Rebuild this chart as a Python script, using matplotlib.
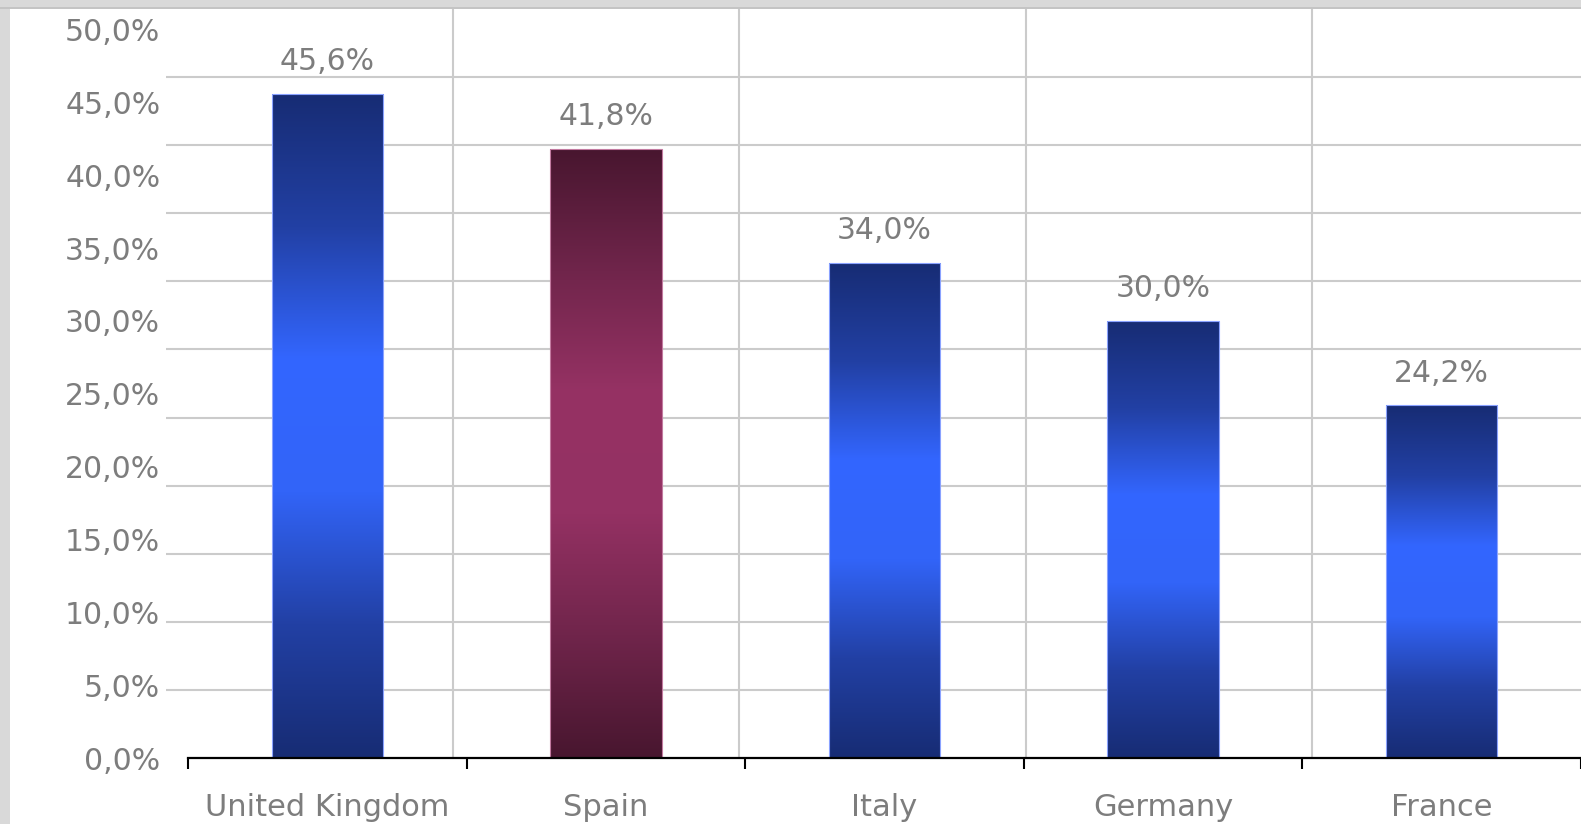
import numpy as np
import matplotlib
matplotlib.use("Agg")
import matplotlib.pyplot as plt
from matplotlib.colors import LinearSegmentedColormap
from matplotlib.patches import Rectangle

# ---- data ----
categories = ["United Kingdom", "Spain", "Italy", "Germany", "France"]
values = [45.6, 41.8, 34.0, 30.0, 24.2]
highlight = ["Spain"]
y_ticks = [0, 5, 10, 15, 20, 25, 30, 35, 40, 45, 50]

W, H = 1581, 824
fig = plt.figure(figsize=(W / 100, H / 100), dpi=100, facecolor="#d9d9d9")

# white panel
fig.patches.append(Rectangle((10 / W, 0), 1 - 10 / W, 1 - 9 / H, transform=fig.transFigure,
                             facecolor="white", edgecolor="none", zorder=-10))
fig.patches.append(Rectangle((0, 1 - 9 / H), 1, 1.5 / H, transform=fig.transFigure,
                             facecolor="#c4c4c4", edgecolor="none", zorder=-10))

# background grid (decorative, independent of the data axes)
bg = fig.add_axes([166 / W, 1 - 758 / H, (W - 166) / W, (758 - 9) / H])
bg.set_xlim(0, (W - 166) / 286.5)
bg.set_ylim(0, 11)
bg.set_facecolor("none")
bg.set_xticks(np.arange(1, 5))
bg.set_yticks(np.arange(1, 11))
bg.grid(True, color="#cbcbcb", linewidth=1.5)
bg.tick_params(length=0, labelbottom=False, labelleft=False)
for s in bg.spines.values():
    s.set_visible(False)

# main axes
ax = fig.add_axes([188 / W, 1 - 758 / H, (W - 188) / W, (758 - 29.5) / H])
ax.set_facecolor("none")
x = np.arange(len(categories))
bars = ax.bar(x, values, width=0.4, color="none", edgecolor="none", zorder=3)

blue = LinearSegmentedColormap.from_list(
    "b", ["#172c74", "#2240a4", "#3264f8", "#3366ff", "#2240a4", "#172c74"])
maroon = LinearSegmentedColormap.from_list(
    "m", ["#48162f", "#70254b", "#943163", "#963264", "#70254b", "#48162f"])
grad = np.linspace(0, 1, 256).reshape(-1, 1)
for cat, b in zip(categories, bars):
    cmap = maroon if cat in highlight else blue
    edge = "#c27aa0" if cat in highlight else "#8aa2ff"
    bx, by, bw, bh = b.get_x(), b.get_y(), b.get_width(), b.get_height()
    im = ax.imshow(grad, extent=[bx, bx + bw, by, by + bh], aspect="auto",
                   cmap=cmap, origin="lower", zorder=3, interpolation="bilinear")
    im.set_clip_path(b)
    ax.add_patch(Rectangle((bx, by), bw, bh, facecolor="none", edgecolor=edge,
                           linewidth=0.8, zorder=4))

txt_color = "#7d7d7d"
for xi, v in zip(x, values):
    ax.annotate(f"{v:.1f}%".replace(".", ","), (xi, v), xytext=(0, 17),
                textcoords="offset points", ha="center", va="baseline",
                fontsize=21.5, color=txt_color, zorder=5)

ax.set_xlim(-0.5, -0.5 + (W - 188) / 280.25)
ax.set_ylim(0, 50)

ax.set_xticks(np.arange(len(categories) + 1) - 0.5)
ax.set_xticklabels([])
ax.set_xticks(x, minor=True)
ax.set_xticklabels(categories, minor=True)
ax.tick_params(axis="x", which="major", length=8, width=1.5, color="black", direction="out")
ax.tick_params(axis="x", which="minor", length=0, pad=25, labelsize=22, labelcolor=txt_color)

ax.set_yticks(y_ticks)
ax.set_yticklabels([f"{t:.1f}%".replace(".", ",") for t in y_ticks])
ax.tick_params(axis="y", length=0, pad=20, labelsize=21.5, labelcolor=txt_color)

for s in ["top", "right", "left"]:
    ax.spines[s].set_visible(False)
ax.spines["bottom"].set_linewidth(1.6)
ax.spines["bottom"].set_color("black")
ax.spines["bottom"].set_zorder(6)

fig.savefig("out.png", dpi=100, facecolor=fig.get_facecolor())
